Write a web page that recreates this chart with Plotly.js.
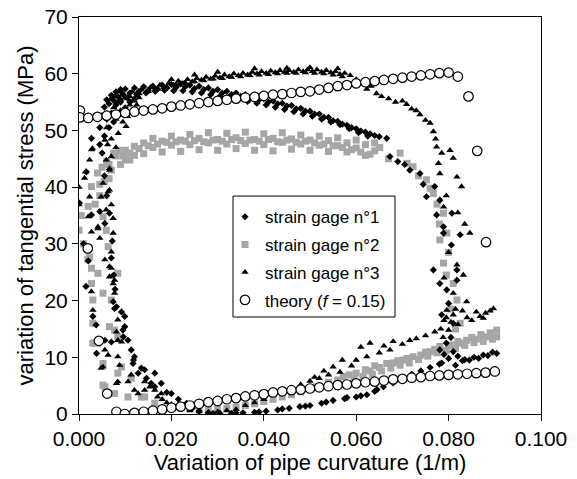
<!DOCTYPE html>
<html>
<head>
<meta charset="utf-8">
<script src="https://cdn.plot.ly/plotly-3.0.1.min.js"></script>
<style>html,body{margin:0;padding:0;background:#fff;}#chart{width:577px;height:479px;}</style>
</head>
<body>
<div id="chart"></div>
<script>
// ---- Data ----
var xTickVals = [0, 0.02, 0.04, 0.06, 0.08, 0.1];
var xTickText = ["0.000", "0.020", "0.040", "0.060", "0.080", "0.100"];
var yTickVals = [0, 10, 20, 30, 40, 50, 60, 70];

var seriesNames = ["strain gage n°1", "strain gage n°2", "strain gage n°3", "theory (<i>f</i> = 0.15)"];

// strain gage n°1 (diamonds)
var g1x = [0.0045,0.0050,0.0055,0.0060,0.0065,0.0070,0.0075,0.0080,0.0085,0.0090,0.0095,0.0100,0.0110,0.0120,0.0130,0.0140,0.0150,0.0160,0.0170,0.0180,0.0190,0.0200,0.0210,0.0220,0.0230,0.0240,0.0250,0.0260,0.0270,0.0280,0.0290,0.0300,0.0310,0.0320,0.0330,0.0340,0.0350,0.0360,0.0370,0.0380,0.0390,0.0400,0.0410,0.0420,0.0430,0.0440,0.0450,0.0460,0.0470,0.0480,0.0490,0.0500,0.0510,0.0520,0.0530,0.0540,0.0550,0.0560,0.0570,0.0580,0.0590,0.0600,0.0610,0.0620,0.0630,0.0640,0.0650,
0.0105,0.0125,0.0145,0.0165,0.0185,0.0205,0.0225,0.0245,0.0265,0.0285,0.0305,0.0325,0.0345,0.0365,0.0385,0.0405,0.0425,0.0445,0.0465,0.0485,0.0505,0.0525,0.0545,0.0565,0.0585,0.0605,0.0625,
0.0060,0.0070,0.0080,0.0090,0.0065,0.0075,0.0085,0.0100,0.0110,0.0120,0.0055,0.0045,
0.0666,0.0673,0.0690,0.0705,0.0716,0.0738,0.0745,0.0752,0.0770,0.0781,0.0774,0.0807,0.0789,0.0825,0.0789,0.0806,0.0767,0.0818,0.0818,0.0781,0.0796,0.0800,0.0785,0.0810,
0.0781,0.0790,0.0800,0.0810,0.0820,0.0830,0.0795,0.0805,0.0815,0.0785,
0.0904,0.0895,0.0885,0.0875,0.0865,0.0855,0.0845,0.0835,0.0780,0.0760,0.0740,0.0720,0.0700,0.0680,0.0659,0.0640,0.0623,0.0600,0.0575,0.0550,0.0525,0.0500,0.0478,0.0455,0.0430,0.0405,0.0380,0.0355,0.0330,0.0305,0.0280,0.0260,0.0245,0.0233,0.0215,0.0200,0.0190,0.0178,0.0164,0.0156,0.0146,0.0164,0.0142,0.0135,0.0128,0.0118,0.0117,0.0120,0.0113,0.0106,0.0096,0.0095,0.0099,0.0099,0.0092,0.0081,0.0077,0.0074,0.0078,0.0075,0.0070,0.0072,0.0066,0.0056,0.0045,0.0060,0.0055,0.0050,
0.0645,0.0610,0.0580,0.0535,0.0490,0.0440,0.0390,0.0340,0.0290,
0.0001,0.0016,0.0027,0.0027,0.0010,0.0020,0.0030,0.0037,0.0038,0.0056,0.0070,0.0045,0.0015];
var g1y = [50.5,52.6,54.1,55.4,54.7,56.2,55.3,56.8,55.9,57.2,56.4,57.3,56.6,57.5,56.9,57.7,57.1,57.8,57.3,58.0,57.5,58.1,57.6,58.2,57.7,58.0,57.4,57.8,57.2,57.5,56.9,57.2,56.6,56.9,56.3,56.6,56.0,56.3,55.7,55.9,55.4,55.6,55.0,55.2,54.7,54.8,54.3,54.4,53.8,53.9,53.4,53.4,52.9,52.9,52.3,52.3,51.7,51.6,51.1,50.9,50.5,50.3,49.9,49.7,49.4,49.1,48.9,
55.8,56.4,56.6,56.9,57.1,57.0,57.0,56.8,56.6,56.3,56.0,55.8,55.4,55.1,54.8,54.5,54.1,53.7,53.3,52.9,52.5,52.0,51.5,51.0,50.3,49.6,49.0,
52.0,53.0,54.5,55.0,50.5,51.5,53.0,54.0,55.0,55.5,49.0,47.5,
48.6,45.4,44.5,44.0,43.0,42.4,40.5,38.3,40.1,37.7,35.1,35.4,33.0,31.6,31.9,29.8,25.4,25.4,23.6,23.0,21.9,19.5,17.5,16.0,
11.3,10.5,9.8,11.0,10.2,9.4,12.5,13.5,8.6,9.0,
10.7,10.9,10.3,10.4,9.8,10.0,9.5,9.6,8.8,8.2,7.6,7.0,6.2,5.5,4.8,4.0,3.4,3.0,2.7,2.4,1.9,1.5,1.3,1.0,0.7,0.5,0.3,0.2,0.1,0.1,0.2,0.5,1.0,1.9,2.6,3.6,3.8,5.4,4.8,5.4,6.3,7.2,7.8,8.1,7.2,9.5,8.9,10.1,11.3,13.0,13.6,14.8,15.4,17.2,18.0,18.9,18.6,19.8,22.0,24.5,27.5,30.5,35.4,33.6,35.7,38.5,42.0,46.0,
4.3,3.2,2.9,2.1,1.4,0.9,0.4,0.2,0.1,
37.2,42.7,48.6,35.1,30.0,27.0,17.2,15.7,10.7,13.0,12.7,12.5,22.5];

// strain gage n°2 (grey squares)
var g2x = [0.0027,0.0020,0.0052,0.0059,0.0000,0.0023,0.0027,0.0041,0.0027,0.0052,0.0030,0.0030,0.0070,0.0066,0.0084,0.0052,0.0084,0.0056,0.0113,0.0106,0.0142,0.0077,0.0019,0.0030,0.0034,0.0052,0.0063,0.0077,0.0084,0.0092,0.0135,0.0164,0.0200,0.0005,0.0010,
0.0040,0.0050,0.0060,0.0070,0.0080,0.0090,0.0045,0.0065,0.0065,0.0075,0.0085,0.0095,0.0110,0.0055,0.0045,0.0035,
0.010,0.010,0.012,0.012,0.014,0.014,0.016,0.016,0.018,0.018,0.020,0.020,0.022,0.022,0.024,0.024,0.026,0.026,0.028,0.028,0.030,0.030,0.032,0.032,0.034,0.034,0.036,0.036,0.038,0.038,0.040,0.040,0.042,0.042,0.044,0.044,0.046,0.046,0.048,0.048,0.050,0.050,0.052,0.052,0.054,0.054,0.056,0.056,0.058,0.058,0.060,0.060,0.062,0.062,0.064,0.064,
0.011,0.013,0.015,0.017,0.019,0.021,0.023,0.025,0.027,0.029,0.031,0.033,0.035,0.037,0.039,0.041,0.043,0.045,0.047,0.049,0.051,0.053,0.055,0.057,0.059,0.061,0.063,
0.0651,0.0670,0.0695,0.0710,0.0723,0.0735,0.0752,0.0760,0.0767,0.0775,0.0789,0.0780,0.0796,0.0781,0.0789,0.0800,0.0810,0.0795,0.0818,0.0805,0.0825,0.0815,
0.0904,0.0904,0.0890,0.0880,0.0870,0.0860,0.0850,0.0839,0.0830,0.0820,0.0810,0.0800,0.0781,0.0770,0.0760,0.0750,0.0740,0.0723,0.0710,0.0700,0.0690,0.0680,0.0666,0.0650,0.0640,0.0630,0.0620,0.0600,0.0585,0.0572,0.0560,0.0540,0.0514,0.0500,0.0480,0.0460,0.0440,0.0420,0.0400,0.0380,0.0360,0.0340,0.0320,0.0300,0.0280,0.0260,0.0240,0.0220,
0.0895,0.0875,0.0855,0.0835,0.0815,0.0795,0.0775,0.0755,0.0735,0.0715,0.0695,0.0675,0.0655,0.0635,0.0615,0.0595];
var g2y = [40.1,36.6,34.8,32.4,32.4,27.7,25.7,24.8,23.0,21.3,16.0,12.5,20.1,15.4,13.6,8.9,7.2,4.8,6.3,3.0,3.0,3.6,27.2,20.1,12.5,5.1,29.5,14.8,24.8,8.3,3.0,1.9,1.3,35.0,30.0,
42.5,43.5,44.5,43.0,45.5,44.0,40.5,41.5,44.0,46.0,46.5,45.5,44.8,41.0,38.5,37.0,
46.5,44.8,47.2,45.6,47.8,45.9,47.0,48.6,48.1,46.2,47.4,49.0,48.3,46.3,47.5,49.3,48.6,46.6,47.8,49.6,48.4,46.5,47.6,49.5,48.7,46.8,47.7,49.7,48.4,46.5,47.5,49.4,48.6,46.4,47.9,49.6,48.5,46.7,47.6,49.2,48.3,46.5,47.4,49.0,48.2,46.3,47.3,48.7,47.8,46.2,46.9,48.3,47.5,45.6,46.4,47.8,
46.0,46.8,47.3,47.6,47.9,48.0,48.1,48.2,48.0,48.3,48.1,48.4,48.2,48.3,48.1,48.4,48.0,48.3,47.9,48.1,47.8,47.6,47.3,47.0,46.6,46.2,45.8,
47.0,45.0,46.0,44.2,43.6,42.0,41.3,39.8,38.9,37.0,35.4,33.5,31.9,30.7,26.6,28.5,23.0,24.5,20.1,18.5,16.0,15.0,
14.8,13.6,14.3,13.6,14.0,13.2,13.5,13.0,12.5,12.8,12.2,12.0,11.9,11.4,11.0,10.9,10.4,10.1,9.8,9.5,9.4,9.0,8.9,8.2,8.5,7.6,7.8,7.2,6.9,6.6,6.0,5.6,4.8,4.5,3.9,3.4,3.0,2.6,2.2,1.8,1.5,1.2,1.0,0.9,0.9,1.0,1.1,1.2,
13.2,12.8,12.6,12.1,11.6,11.2,10.8,10.2,9.6,9.0,8.6,8.1,7.6,7.0,6.6,6.2];

// strain gage n°3 (triangles)
var g3x = [0.0085,0.0095,0.0105,0.0115,0.0125,0.0135,0.0145,0.0155,0.0165,0.0175,0.0185,0.0195,0.0205,0.0215,0.0225,0.0235,0.0245,0.0255,0.0265,0.0275,0.0285,0.0295,0.0305,0.0315,0.0325,0.0335,0.0345,0.0355,0.0365,0.0375,0.0385,0.0395,0.0405,0.0415,0.0425,0.0435,0.0445,0.0455,0.0465,0.0475,0.0485,0.0495,0.0505,0.0515,0.0525,0.0535,0.0545,0.0555,0.0565,0.0575,0.0587,0.0600,0.0612,0.0623,0.0632,0.0644,0.0655,0.0670,0.0685,0.0700,0.0709,0.0720,0.0730,0.0738,0.0750,0.0760,0.0767,0.0772,0.0774,0.0785,0.0803,0.0810,0.0778,0.0781,0.0818,0.0828,0.0789,0.0795,0.0820,0.0835,0.0846,0.0818,0.0832,0.0839,0.0810,0.0800,0.0790,
0.009,0.011,0.013,0.015,0.017,0.019,0.021,0.023,0.025,0.027,0.029,0.031,0.033,0.035,0.037,0.039,0.041,0.043,0.045,0.047,0.049,0.051,0.053,0.055,0.057,
0.038,0.045,0.050,0.056,0.030,0.025,0.020,
0.0056,0.0102,0.0070,0.0066,0.0060,0.0080,0.0090,0.0110,0.0075,0.0065,0.0100,0.0120,
0.0070,0.0085,0.0095,0.0105,0.0115,0.0125,0.0080,0.0062,0.0090,0.0078,0.0068,0.0130,
0.0027,0.0023,0.0014,0.0012,0.0000,0.0000,0.0020,0.0027,0.0041,0.0045,0.0059,0.0066,0.0052,0.0066,0.0048,0.0070,0.0059,0.0074,0.0074,0.0070,0.0041,0.0029,0.0023,0.0063,
0.0027,0.0030,0.0056,0.0070,0.0066,0.0074,0.0077,0.0084,0.0081,0.0092,0.0056,0.0063,0.0052,0.0084,0.0088,0.0084,0.0113,0.0120,0.0128,0.0142,0.0142,0.0153,0.0164,0.0048,0.0066,0.0077,0.0084,0.0081,0.0106,0.0178,
0.0170,0.0180,0.0190,0.0200,0.0210,0.0220,0.0240,0.0260,0.0280,0.0300,0.0320,0.0340,
0.0360,0.0380,0.0400,0.0420,0.0440,0.0460,0.0480,0.0500,0.0520,0.0540,0.0565,0.0590,0.0623,0.0650,0.0673,0.0700,0.0716,0.0730,0.0750,0.0770,
0.0600,0.0610,0.0630,0.0660,0.0680,0.0570,0.0550,0.0530,0.0510,
0.0783,0.0790,0.0800,0.0810,0.0820,0.0830,0.0795,0.0805,0.0815,0.0788,
0.0897,0.0868,0.0880,0.0850,0.0840,0.0860,0.0796,0.0890,0.0875];
var g3y = [55.0,56.3,55.6,56.8,56.2,57.2,56.7,57.6,57.2,58.0,57.6,58.4,58.0,58.7,58.3,59.0,58.6,59.2,58.9,59.4,59.1,59.6,59.3,59.8,59.5,60.0,59.7,60.1,59.8,60.3,60.0,60.4,60.1,60.5,60.2,60.6,60.3,60.6,60.3,60.7,60.4,60.7,60.4,60.7,60.3,60.6,60.2,60.4,59.9,60.1,59.7,59.0,58.2,57.3,57.8,56.5,56.0,55.6,55.0,55.2,54.6,53.8,53.5,52.8,51.8,51.3,49.8,48.5,47.1,46.0,46.5,45.1,44.2,42.4,41.8,40.1,36.5,38.5,35.5,33.5,31.9,26.3,24.5,19.8,21.3,28.5,24.0,
55.5,56.0,56.5,56.9,57.3,57.7,58.0,58.4,58.6,58.8,59.1,59.2,59.4,59.5,59.7,59.8,59.9,60.0,60.1,60.1,60.2,60.1,60.0,59.8,59.5,
60.9,61.0,61.1,60.9,60.3,59.8,59.0,
48.3,50.7,45.4,43.0,50.5,52.0,53.5,54.5,54.0,52.5,55.8,55.2,
48.5,49.5,51.5,52.5,53.5,54.5,47.0,47.5,56.8,56.0,55.5,55.8,
46.6,44.8,42.7,41.6,40.0,36.9,34.8,32.1,33.0,31.0,44.8,43.3,40.7,39.5,38.3,36.9,36.0,34.5,31.9,28.6,32.7,46.8,38.3,39.2,
21.6,18.3,27.2,25.7,24.2,23.0,21.3,16.6,14.5,12.7,11.3,10.4,8.3,10.1,8.6,5.7,6.9,4.2,3.6,5.7,4.2,4.8,4.2,8.1,26.0,23.6,13.0,5.4,5.7,3.6,
3.0,2.6,2.0,1.7,1.3,0.9,0.6,0.4,0.3,0.4,0.6,0.8,
1.5,2.0,2.6,3.3,4.0,4.6,5.2,5.8,6.3,6.9,7.4,8.5,10.1,10.8,11.3,12.3,13.0,13.3,13.8,14.5,
9.5,11.8,12.5,12.0,12.8,9.5,8.3,7.6,6.5,
15.0,16.5,14.8,17.5,15.8,18.2,17.0,16.2,18.5,13.5,
18.6,17.2,17.8,16.5,17.0,18.0,18.3,18.2,16.9];

// theory (f = 0.15) (open circles)
var thx = [0.0002,0.0002,0.002,0.004,0.006,0.008,0.010,0.012,0.014,0.016,0.018,0.020,0.022,0.024,0.026,0.028,0.030,0.032,0.034,0.036,0.038,0.040,0.042,0.044,0.046,0.048,0.050,0.052,0.054,0.056,0.058,0.060,0.062,0.064,0.066,0.068,0.070,0.072,0.074,0.076,0.078,0.080,0.082,0.0843,0.0862,0.0881,
0.0019,0.0043,0.0061,0.0081,0.0099,0.012,0.014,0.016,0.018,0.020,0.022,0.024,0.026,0.028,0.030,0.032,0.034,0.036,0.038,0.040,0.042,0.044,0.046,0.048,0.050,0.052,0.054,0.056,0.058,0.060,0.062,0.064,0.066,0.068,0.070,0.072,0.074,0.076,0.078,0.080,0.082,0.084,0.086,0.088,0.090];
var thy = [53.5,52.3,52.2,52.4,52.6,52.8,53.1,53.3,53.5,53.7,53.9,54.2,54.4,54.6,54.8,55.0,55.2,55.4,55.6,55.8,55.9,56.1,56.3,56.4,56.6,56.8,56.9,57.2,57.5,57.8,58.0,58.3,58.5,58.7,58.9,59.1,59.3,59.5,59.7,59.9,60.1,60.2,59.5,56.0,46.4,30.3,
29.2,12.9,3.6,0.4,0.0,0.2,0.4,0.6,0.8,1.1,1.3,1.5,1.8,2.1,2.3,2.6,2.8,3.1,3.3,3.5,3.8,4.0,4.2,4.3,4.5,4.7,4.9,5.1,5.2,5.4,5.6,5.7,5.9,6.1,6.2,6.4,6.5,6.7,6.8,6.9,7.0,7.1,7.2,7.3,7.5];

// ---- Traces ----
var traces = [
  {x: g2x, y: g2y, name: seriesNames[1], type: 'scatter', mode: 'markers', legendrank: 2, legendgroup: 'g2',
   marker: {symbol: 'square', size: 7, color: '#a6a6a6', line: {width: 0}}},
  {x: g1x, y: g1y, name: seriesNames[0], type: 'scatter', mode: 'markers', legendrank: 1, legendgroup: 'g1',
   marker: {symbol: 'diamond', size: 5.5, color: '#000000', line: {width: 0}}},
  {x: g3x, y: g3y, name: seriesNames[2], type: 'scatter', mode: 'markers', legendrank: 3, legendgroup: 'g3',
   marker: {symbol: 'triangle-up', size: 6.5, color: '#000000', line: {width: 0}}},
  {x: thx, y: thy, name: seriesNames[3], type: 'scatter', mode: 'markers', legendrank: 4, legendgroup: 'th',
   marker: {symbol: 'circle', size: 9.5, color: '#ffffff', line: {width: 1.2, color: '#000000'}}}
];

var layout = {
  width: 577, height: 479,
  margin: {l: 79, r: 36, t: 17, b: 65},
  paper_bgcolor: '#ffffff', plot_bgcolor: '#ffffff',
  font: {family: 'Liberation Sans, Arial, sans-serif', size: 21, color: '#000'},
  showlegend: true,
  legend: {x: 0.316, y: 0.541, xanchor: 'left', yanchor: 'top',
           bgcolor: 'rgba(0,0,0,0)', borderwidth: 0, tracegroupgap: 2.6,
           font: {size: 17, color: '#000'}, itemsizing: 'trace', traceorder: 'grouped'},
  shapes: [{type: 'rect', xref: 'paper', yref: 'paper', x0: 0.3333, x1: 0.684, y0: 0.2443, y1: 0.549,
            line: {color: '#000', width: 1}, fillcolor: '#ffffff', layer: 'above'}],
  xaxis: {range: [0, 0.1], tickvals: xTickVals, ticktext: xTickText,
          ticks: 'outside', ticklen: 6, tickwidth: 1, tickcolor: '#000',
          showline: true, linecolor: '#000', linewidth: 1, mirror: true,
          showgrid: false, zeroline: false,
          tickfont: {size: 21},
          title: {text: 'Variation of pipe curvature (1/m)', font: {size: 22}, standoff: 5}},
  yaxis: {range: [0, 70], tickvals: yTickVals,
          ticks: 'outside', ticklen: 6, tickwidth: 1, tickcolor: '#000',
          showline: true, linecolor: '#000', linewidth: 1, mirror: true,
          showgrid: false, zeroline: false,
          tickfont: {size: 21},
          title: {text: 'variation of tangential stress (MPa)', font: {size: 22}, standoff: 4}}
};

Plotly.newPlot('chart', traces, layout, {displayModeBar: false, staticPlot: true});
</script>
</body>
</html>
